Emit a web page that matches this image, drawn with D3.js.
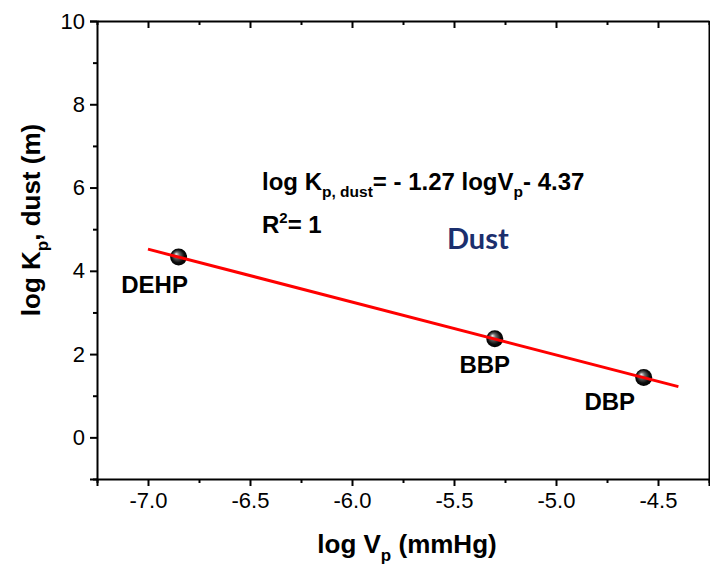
<!DOCTYPE html>
<html>
<head>
<meta charset="utf-8">
<script src="https://cdn.jsdelivr.net/npm/d3@7"></script>
<style>
  body { margin: 0; background: #fff; }
  text { font-family: "Liberation Sans", Arial, sans-serif; }
</style>
</head>
<body>
<div id="chart"></div>
<script>
// data
var compounds = ["DEHP", "BBP", "DBP"];
var logVp = [-6.85, -5.30, -4.57];
var logKp = [4.33, 2.37, 1.44];

// fitted line: log Kp = -1.27 log Vp - 4.37
var fitSlope = -1.27;
var fitIntercept = -4.37;
var fitRange = [-7.0, -4.4];

var xTicks = [-7.0, -6.5, -6.0, -5.5, -5.0, -4.5];
var yTicks = [0, 2, 4, 6, 8, 10];

var svgWidth = 710;
var svgHeight = 565;
var margin = { top: 21, right: 1, bottom: 86, left: 97 };
var chartWidth = svgWidth - margin.left - margin.right;
var chartHeight = svgHeight - margin.top - margin.bottom;

var svg = d3.select("#chart")
  .append("svg")
  .attr("width", svgWidth)
  .attr("height", svgHeight);

var defs = svg.append("defs");
var grad = defs.append("radialGradient")
  .attr("id", "ball")
  .attr("cx", "50%").attr("cy", "50%").attr("r", "55%")
  .attr("fx", "35%").attr("fy", "32%");
grad.append("stop").attr("offset", "0%").attr("stop-color", "#f4f4f4");
grad.append("stop").attr("offset", "30%").attr("stop-color", "#6a6a6a");
grad.append("stop").attr("offset", "70%").attr("stop-color", "#0c0c0c");
grad.append("stop").attr("offset", "100%").attr("stop-color", "#000");

var chartGroup = svg.append("g")
  .attr("transform", `translate(${margin.left}, ${margin.top})`);

var xScale = d3.scaleLinear().domain([-7.25, -4.25]).range([0, chartWidth]);
var yScale = d3.scaleLinear().domain([-1, 10]).range([chartHeight, 0]);

var xMinor = d3.range(-7.25, -4.24, 0.5);
var yMinor = d3.range(-1, 10, 2);

// hyphen instead of the unicode minus d3 uses by default
var fmtX = d => d3.format(".1f")(d).replace("\u2212", "-");

// axes
var bottomAxis = d3.axisBottom(xScale).tickValues(xTicks).tickFormat(fmtX).tickSizeOuter(0).tickSize(7).tickPadding(6);
var leftAxis = d3.axisLeft(yScale).tickValues(yTicks).tickFormat(d3.format("d")).tickSizeOuter(0).tickSize(7).tickPadding(5);

chartGroup.append("g")
  .attr("transform", `translate(0, ${chartHeight})`)
  .call(bottomAxis);
chartGroup.append("g").call(leftAxis);

// minor ticks
chartGroup.append("g")
  .attr("transform", `translate(0, ${chartHeight})`)
  .call(d3.axisBottom(xScale).tickValues(xMinor).tickFormat("").tickSize(4).tickSizeOuter(0))
  .select(".domain").remove();
chartGroup.append("g")
  .call(d3.axisLeft(yScale).tickValues(yMinor).tickFormat("").tickSize(4).tickSizeOuter(0))
  .select(".domain").remove();

// top axis with inward ticks
chartGroup.append("g")
  .call(d3.axisTop(xScale).tickValues(xTicks).tickFormat("").tickSize(-7).tickSizeOuter(0));
chartGroup.append("g")
  .call(d3.axisTop(xScale).tickValues(xMinor).tickFormat("").tickSize(-4).tickSizeOuter(0))
  .select(".domain").remove();

// right border
chartGroup.append("g")
  .attr("transform", `translate(${chartWidth}, 0)`)
  .call(d3.axisRight(yScale).tickValues([]).tickSizeOuter(0));

chartGroup.selectAll(".domain").attr("stroke", "#000").attr("stroke-width", 2);
chartGroup.selectAll(".tick line").attr("stroke", "#000").attr("stroke-width", 2);
chartGroup.selectAll(".tick text")
  .attr("font-family", "Liberation Sans, Arial, sans-serif")
  .attr("font-size", "22px")
  .attr("fill", "#000");

var points = compounds.map(function(c, i) {
  return { name: c, x: logVp[i], y: logKp[i] };
});

chartGroup.selectAll("circle.pt")
  .data(points)
  .enter()
  .append("circle")
  .attr("class", "pt")
  .attr("cx", d => xScale(d.x))
  .attr("cy", d => yScale(d.y))
  .attr("r", 8.5)
  .attr("fill", "url(#ball)");

// red line drawn over the balls, as in the picture
chartGroup.append("line")
  .attr("x1", xScale(fitRange[0]))
  .attr("y1", yScale(fitSlope * fitRange[0] + fitIntercept))
  .attr("x2", xScale(fitRange[1]))
  .attr("y2", yScale(fitSlope * fitRange[1] + fitIntercept))
  .attr("stroke", "#ff0000")
  .attr("stroke-width", 3);

// point labels
var labelOffsets = { DEHP: [-24, 36], BBP: [-10, 34], DBP: [-34, 33] };
chartGroup.selectAll("text.lbl")
  .data(points)
  .enter()
  .append("text")
  .attr("class", "lbl")
  .attr("x", d => xScale(d.x) + labelOffsets[d.name][0])
  .attr("y", d => yScale(d.y) + labelOffsets[d.name][1])
  .attr("text-anchor", "middle")
  .attr("font-size", "24px")
  .attr("font-weight", "bold")
  .text(d => d.name);

// equation
var eq = svg.append("text")
  .attr("x", 262)
  .attr("y", 190)
  .attr("font-size", "24px")
  .attr("font-weight", "bold");
eq.append("tspan").text("log K");
eq.append("tspan").attr("font-size", "15.5px").attr("dy", 7).text("p, dust");
eq.append("tspan").attr("dy", -7).text("= - 1.27 logV");
eq.append("tspan").attr("font-size", "15.5px").attr("dy", 7).text("p");
eq.append("tspan").attr("dy", -7).text("- 4.37");

var r2 = svg.append("text")
  .attr("x", 262)
  .attr("y", 233)
  .attr("font-size", "24px")
  .attr("font-weight", "bold");
r2.append("tspan").text("R");
r2.append("tspan").attr("font-size", "15px").attr("dy", -10).text("2");
r2.append("tspan").attr("dy", 10).text("= 1");

svg.append("text")
  .attr("x", 447)
  .attr("y", 249)
  .style("font-family", "Lato, sans-serif")
  .attr("font-size", "29px")
  .attr("font-weight", "bold")
  .attr("fill", "#1b2f6e")
  .text("Dust");

// axis titles
var xt = svg.append("text")
  .attr("x", margin.left + chartWidth / 2 + 4)
  .attr("y", 553)
  .attr("text-anchor", "middle")
  .attr("font-size", "26px")
  .attr("font-weight", "bold");
xt.append("tspan").text("log V");
xt.append("tspan").attr("font-size", "17px").attr("dy", 8).text("p");
xt.append("tspan").attr("dy", -8).text(" (mmHg)");

var yt = svg.append("text")
  .attr("transform", "translate(40, 220) rotate(-90)")
  .attr("text-anchor", "middle")
  .attr("font-size", "26px")
  .attr("font-weight", "bold");
yt.append("tspan").text("log K");
yt.append("tspan").attr("font-size", "17px").attr("dy", 8).text("p");
yt.append("tspan").attr("dy", -8).text(", dust (m)");
</script>
</body>
</html>
